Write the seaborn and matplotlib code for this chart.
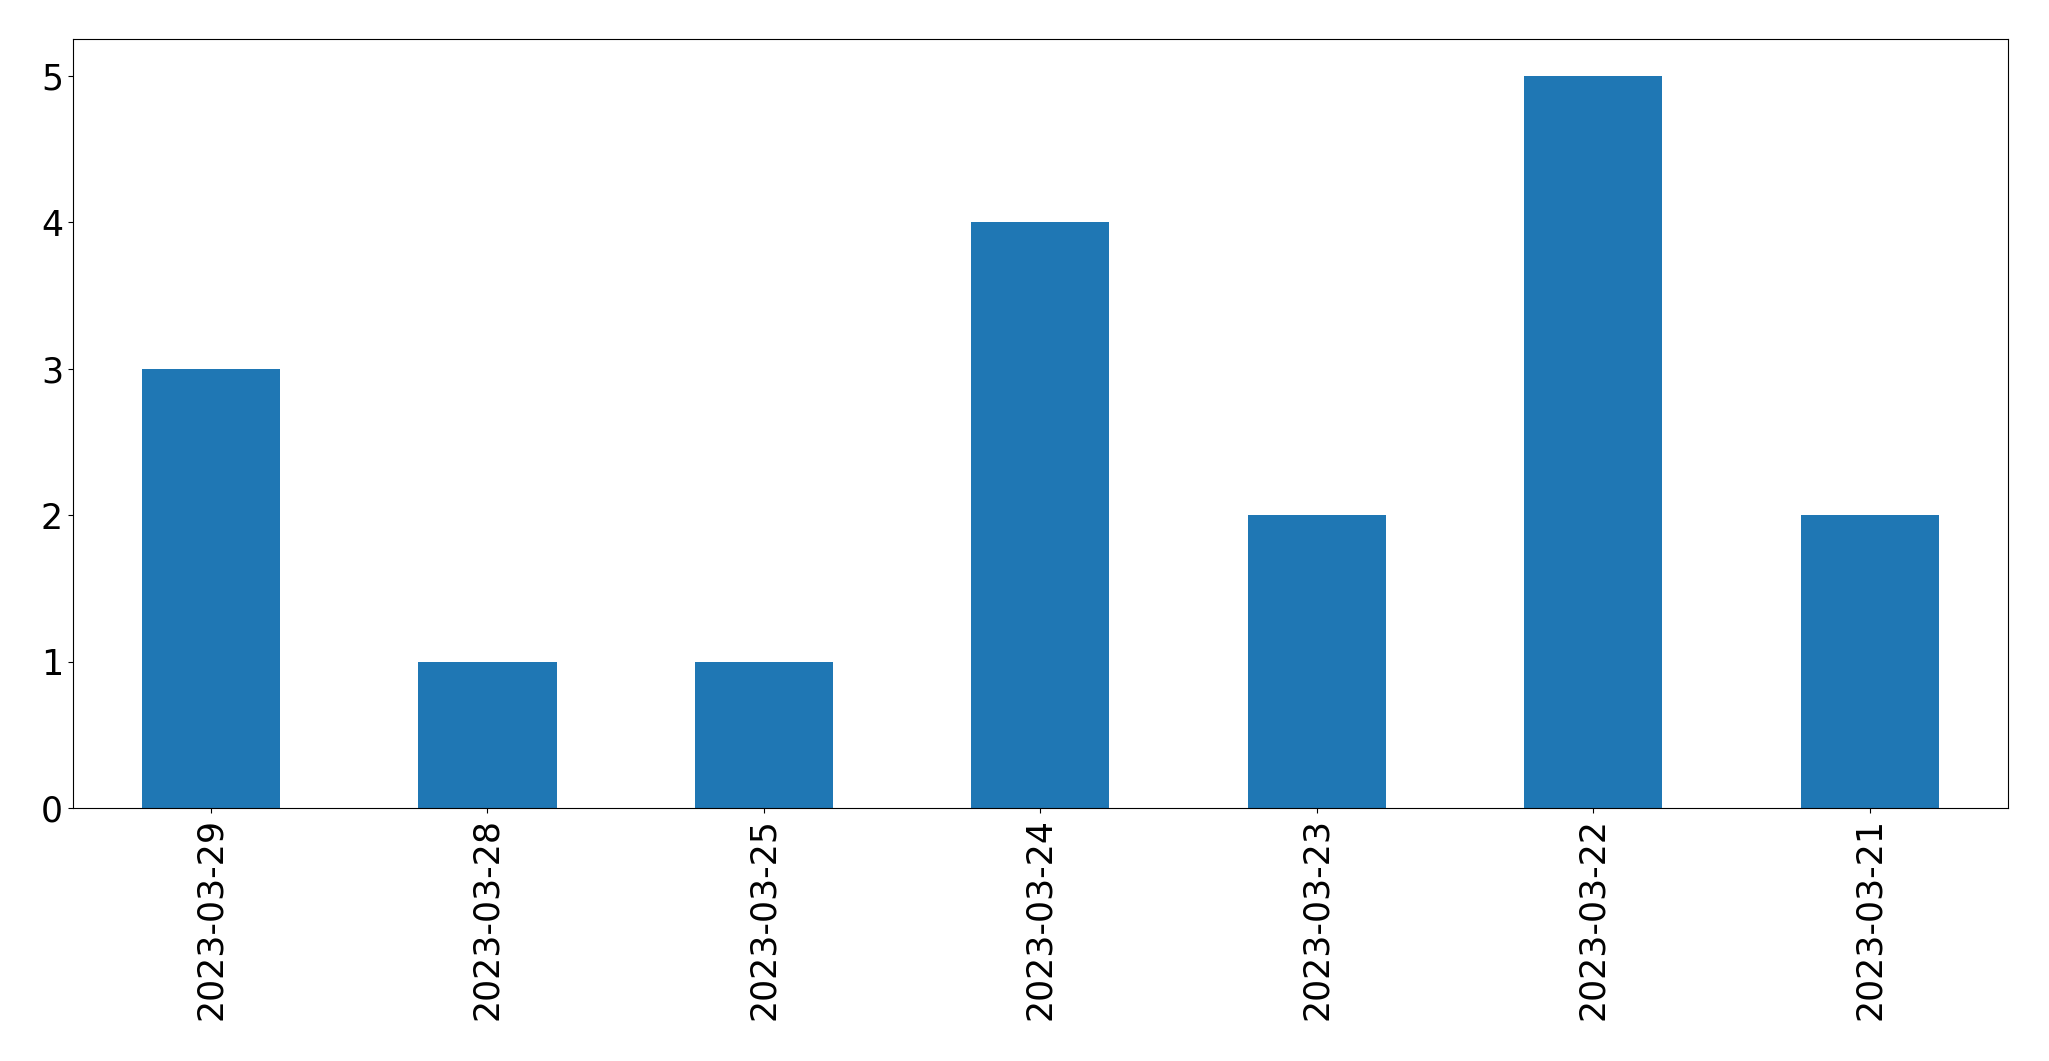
import pandas as pd
import seaborn as sb
import matplotlib
matplotlib.use('Agg')
import matplotlib.pyplot as plt

# dados do grafico
datas = ['2023-03-29', '2023-03-28', '2023-03-25', '2023-03-24', '2023-03-23', '2023-03-22', '2023-03-21']
contagem = [3, 1, 1, 4, 2, 5, 2]

dados = pd.DataFrame({'data': datas, 'contagem': contagem})

fig, ax = plt.subplots(figsize=(20.49, 10.61), dpi=100)
sb.barplot(data=dados, x='data', y='contagem', order=datas, color='#1f77b4',
           saturation=1, width=0.5, ax=ax)

ax.set_xlim(-0.5, len(datas) - 0.5)
ax.set_ylim(0, 5.25)
ax.set_xlabel('')
ax.set_ylabel('')
ax.tick_params(axis='both', labelsize=25)
plt.setp(ax.get_xticklabels(), rotation=90)

plt.subplots_adjust(left=0.0355, right=0.980, top=0.963, bottom=0.238)
plt.savefig('out.png', dpi=100)
